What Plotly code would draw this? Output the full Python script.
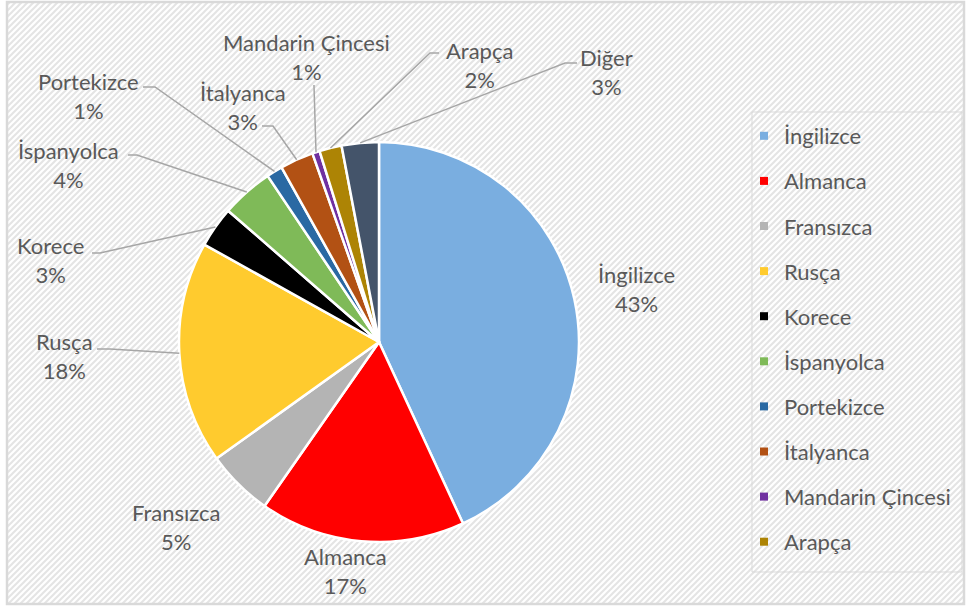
import base64
import math
import plotly.graph_objects as go

# ---------------- data ----------------
labels = ["İngilizce", "Almanca", "Fransızca", "Rusça", "Korece", "İspanyolca",
          "Portekizce", "İtalyanca", "Mandarin Çincesi", "Arapça", "Diğer"]
values = [43.1, 16.6, 5.4, 18.0, 3.3, 4.2, 1.3, 2.7, 0.6, 1.8, 3.0]
colors = ["#7aaee0", "#ff0000", "#b4b4b4", "#ffcb2e", "#000000", "#7fba58",
          "#2a69a3", "#b25114", "#7030a0", "#ad8405", "#44546a"]
legend_labels = labels[:10]

# ---------------- layout constants ----------------
W, H = 967, 608
CX, CY, R = 379, 342, 200
TXT = "#595959"
FONT = "Lato"
FS = 22

def px(x):
    return x / W

def py(y):
    return 1 - y / H

# label text centres (pixels)
LABEL_POS = {
    "İngilizce": (636, 289), "Almanca": (345, 571), "Fransızca": (176, 527),
    "Rusça": (64, 356), "Korece": (50, 260), "İspanyolca": (68, 165),
    "Portekizce": (88, 96), "İtalyanca": (243, 107), "Mandarin Çincesi": (306, 57),
    "Arapça": (479, 65), "Diğer": (606, 72),
}
# leader line start and elbow near text (pixels)
LEADER = {
    "Rusça": ((97, 349), (110, 349)),
    "Korece": ((92, 253), (100, 253)),
    "İspanyolca": ((128, 155), (137, 155)),
    "Portekizce": ((143, 87), (155, 87)),
    "İtalyanca": ((262, 126), (273, 126)),
    "Mandarin Çincesi": ((314, 85), (314, 86)),
    "Arapça": ((439, 53), (430, 53)),
    "Diğer": ((577, 63), (565, 63)),
}

fig = go.Figure()

fig.add_trace(go.Pie(
    labels=labels, values=values, sort=False, direction="clockwise", rotation=0,
    marker=dict(colors=colors, line=dict(color="white", width=2.5)),
    textinfo="none", showlegend=False,
    domain=dict(x=[px(CX - R), px(CX + R)], y=[py(CY + R), py(CY - R)]),
    hovertemplate="%{label}: %{percent}<extra></extra>",
))

# legend entries (dummy traces, one group each for spacing)
for lab, col in zip(legend_labels, colors):
    fig.add_trace(go.Scatter(
        x=[None], y=[None], mode="markers", name=lab, legendgroup=lab,
        marker=dict(symbol="square", size=8, color=col),
        showlegend=True,
    ))

total = sum(values)
cum = 0.0
annotations = []
shapes = []
for lab, v in zip(labels, values):
    mid = (cum + v / 2) / total * 2 * math.pi
    cum += v
    rx, ry = CX + R * math.sin(mid), CY - R * math.cos(mid)
    pct = round(v / total * 100)
    tx, ty = LABEL_POS[lab]
    annotations.append(dict(
        x=px(tx), y=py(ty), xref="paper", yref="paper", showarrow=False,
        text=f"{lab}<br>{pct}%", align="center", xanchor="center", yanchor="middle",
        font=dict(family=FONT, size=FS, color=TXT),
    ))
    if lab in LEADER:
        (sx, sy), (ex, ey) = LEADER[lab]
        path = f"M {px(sx)},{py(sy)} L {px(ex)},{py(ey)} L {px(rx)},{py(ry)}"
        shapes.append(dict(type="path", path=path, xref="paper", yref="paper",
                           line=dict(color="#a6a6a6", width=1.5)))

# outer frame
shapes.append(dict(type="rect", xref="paper", yref="paper",
                   x0=px(7), x1=px(964), y0=py(604), y1=py(2),
                   line=dict(color="#d9d9d9", width=2.5), layer="below"))
# legend frame
shapes.append(dict(type="rect", xref="paper", yref="paper",
                   x0=px(752), x1=px(962), y0=py(572), y1=py(112),
                   line=dict(color="#d9d9d9", width=1), layer="below"))

# hatched background
svg = (
    f'<svg xmlns="http://www.w3.org/2000/svg" width="{W}" height="{H}">'
    '<defs><pattern id="p" width="6" height="6" patternUnits="userSpaceOnUse">'
    '<rect width="6" height="6" fill="#ffffff"/>'
    '<path d="M-1,1 l2,-2 M0,6 l6,-6 M5,7 l2,-2" stroke="#e4e4e4" stroke-width="2"/>'
    '</pattern></defs>'
    f'<rect x="7" y="2" width="{964-7}" height="{604-2}" fill="url(#p)"/>'
    '</svg>'
)
src = "data:image/svg+xml;base64," + base64.b64encode(svg.encode()).decode()

fig.update_layout(
    width=W, height=H,
    margin=dict(l=0, r=0, t=0, b=0),
    paper_bgcolor="white", plot_bgcolor="rgba(0,0,0,0)",
    xaxis=dict(visible=False), yaxis=dict(visible=False),
    font=dict(family=FONT, size=FS, color=TXT),
    annotations=annotations, shapes=shapes,
    images=[dict(source=src, xref="paper", yref="paper", x=0, y=1, sizex=1, sizey=1,
                 sizing="stretch", layer="below", xanchor="left", yanchor="top")],
    legend=dict(x=px(744), y=py(115), xanchor="left", yanchor="top",
                bgcolor="rgba(0,0,0,0)", borderwidth=0,
                font=dict(family=FONT, size=FS, color=TXT),
                tracegroupgap=13.5, traceorder="grouped"),
)

fig.write_html("out.html",
               config={"displayModeBar": False},
               post_script="document.body.style.margin='0';document.body.style.overflow='hidden';")
